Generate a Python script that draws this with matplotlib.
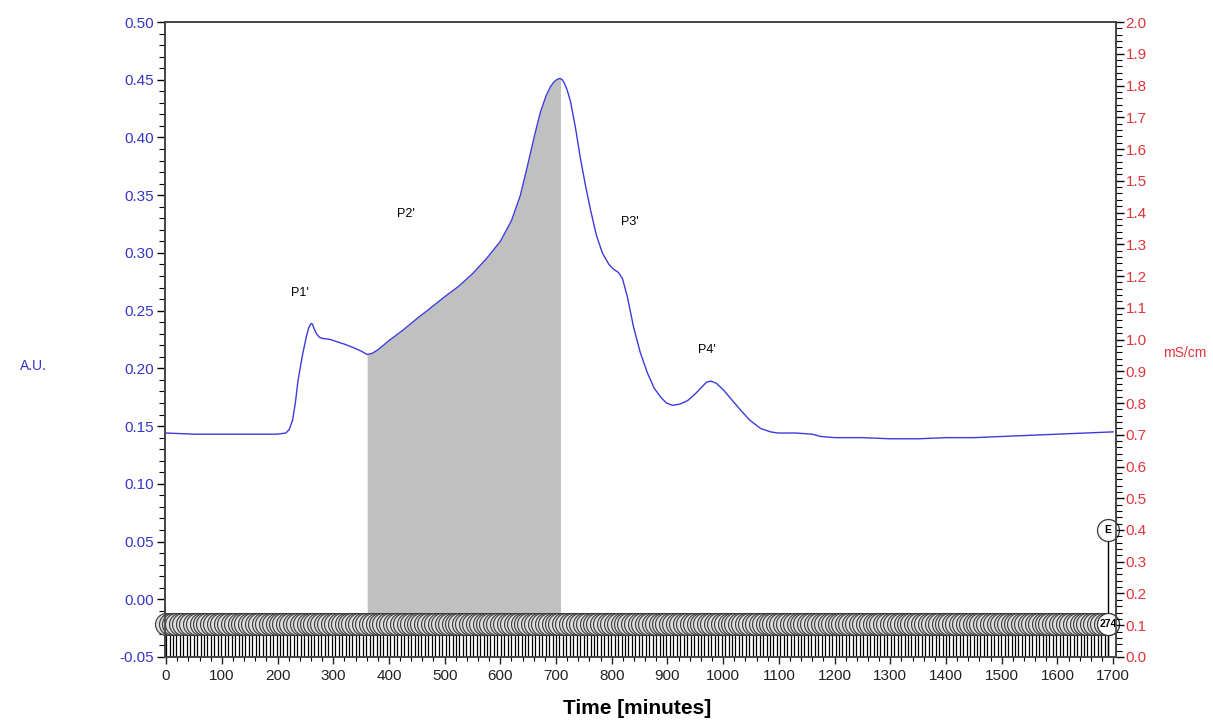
import numpy as np
import matplotlib.pyplot as plt
from matplotlib.ticker import MultipleLocator, FormatStrFormatter

plt.rcParams['font.family'] = ['Liberation Sans', 'DejaVu Sans']

# chromatogram (time in minutes, absorbance in A.U.)
time_min = [0, 50, 100, 150, 200, 215, 221, 227, 232, 237, 245, 252, 256, 259, 261, 263, 266,
            270, 275, 280, 295, 307, 320, 336, 350, 361, 370, 380, 400, 425, 450, 474, 500,
            525, 550, 575, 600, 620, 636, 649, 662, 672, 682, 690, 696, 701, 705, 708, 711,
            715, 720, 726, 735, 744, 753, 762, 772, 783, 795, 803, 812, 819, 828, 839, 851,
            864, 876, 888, 898, 909, 922, 936, 950, 962, 970, 978, 988, 1001, 1015, 1031,
            1048, 1067, 1085, 1098, 1130, 1160, 1175, 1200, 1250, 1300, 1350, 1400, 1450,
            1500, 1550, 1600, 1650, 1700]
absorb = [0.144, 0.143, 0.143, 0.143, 0.143, 0.144, 0.147, 0.155, 0.170, 0.190, 0.212, 0.228,
          0.235, 0.238, 0.239, 0.238, 0.234, 0.230, 0.227, 0.226, 0.225, 0.223, 0.221, 0.218,
          0.215, 0.212, 0.213, 0.216, 0.224, 0.233, 0.243, 0.252, 0.262, 0.271, 0.282, 0.295,
          0.310, 0.328, 0.350, 0.376, 0.403, 0.422, 0.436, 0.444, 0.448, 0.450, 0.451, 0.451,
          0.450, 0.447, 0.441, 0.431, 0.408, 0.381, 0.358, 0.337, 0.316, 0.300, 0.290, 0.286,
          0.283, 0.278, 0.262, 0.236, 0.214, 0.196, 0.183, 0.175, 0.170, 0.168, 0.169, 0.172,
          0.178, 0.184, 0.188, 0.189, 0.187, 0.181, 0.173, 0.164, 0.155, 0.148, 0.145, 0.144,
          0.144, 0.143, 0.141, 0.140, 0.140, 0.139, 0.139, 0.140, 0.140, 0.141, 0.142, 0.143,
          0.144, 0.145]

# pooled region (grey)
pool_start, pool_end = 361, 708

# peak labels
peak_names = ["P1'", "P2'", "P3'", "P4'"]
peak_x = [241, 431, 832, 970]
peak_y = [0.265, 0.334, 0.327, 0.216]

# fraction collector
n_fractions = 274
first_frac, last_frac = 0, 1691

t = np.array(time_min)
a = np.array(absorb)

fig = plt.figure(figsize=(12.13, 7.27), dpi=100)
ax = fig.add_axes([0.136, 0.0963, 0.784, 0.8734])
ax2 = ax.twinx()

ax.set_xlim(-2, 1705)
ax.set_ylim(-0.05, 0.50)
ax2.set_ylim(0.0, 2.0)

mask = (t >= pool_start) & (t <= pool_end)
ax.fill_between(t, a, -0.012, where=mask, color='#c0c0c0', lw=0, zorder=1)
ax.plot(t, a, color='#3b3bdc', lw=1.0, zorder=3)

for name, x, y in zip(peak_names, peak_x, peak_y):
    ax.text(x, y, name, fontsize=9, ha='center', va='center', color='black')

# fraction marks
frac_t = np.linspace(first_frac, last_frac, n_fractions)
ax.vlines(frac_t, -0.05, -0.031, color='black', lw=0.9, zorder=2)
ax.scatter(frac_t, np.full(n_fractions, -0.0215), s=250, facecolor='#dcdcdc',
           edgecolor='#3a3a3a', lw=0.8, zorder=4, clip_on=False)
ax.vlines(last_frac, -0.05, 0.06, color='black', lw=1.0, zorder=5)
ax.scatter([last_frac], [-0.0215], s=250, facecolor='white', edgecolor='#3a3a3a',
           lw=0.9, zorder=6, clip_on=False)
ax.text(last_frac, -0.0215, str(n_fractions), fontsize=7.5, fontweight='bold',
        ha='center', va='center', zorder=7)
ax.scatter([last_frac], [0.06], s=250, facecolor='white', edgecolor='#3a3a3a',
           lw=0.9, zorder=6, clip_on=False)
ax.text(last_frac, 0.06, 'E', fontsize=7.5, fontweight='bold', ha='center', va='center', zorder=7)

# axes styling
ax.xaxis.set_major_locator(MultipleLocator(100))
ax.xaxis.set_minor_locator(MultipleLocator(20))
ax.yaxis.set_major_locator(MultipleLocator(0.05))
ax.yaxis.set_minor_locator(MultipleLocator(0.01))
ax.yaxis.set_major_formatter(FormatStrFormatter('%.2f'))
ax2.yaxis.set_major_locator(MultipleLocator(0.1))
ax2.yaxis.set_minor_locator(MultipleLocator(0.02))
ax2.yaxis.set_major_formatter(FormatStrFormatter('%.1f'))

ax.tick_params(axis='x', labelsize=11, length=5, width=1, colors='#222222', labelcolor='#222222')
ax.tick_params(axis='x', which='minor', length=3, width=0.8)
ax.tick_params(axis='y', labelsize=11, length=6, width=1, labelcolor='#3535c8', pad=2)
ax.tick_params(axis='y', which='minor', length=4, width=0.8)
ax2.tick_params(axis='y', labelsize=11, length=6, width=1, labelcolor='#e0353a', pad=1)
ax2.tick_params(axis='y', which='minor', length=4, width=0.8)

for sp in list(ax.spines.values()) + list(ax2.spines.values()):
    sp.set_color('#444444')
    sp.set_linewidth(1.2)

fig.text(20 / 1213, 1 - 366 / 727, 'A.U.', color='#3535c8', fontsize=10, va='center')
fig.text(1163 / 1213, 1 - 353 / 727, 'mS/cm', color='#e0353a', fontsize=10, va='center')
fig.text(0.525, 1 - 709 / 727, 'Time [minutes]', fontsize=15, fontweight='bold',
         ha='center', va='center')

fig.savefig('out.png', dpi=100)
